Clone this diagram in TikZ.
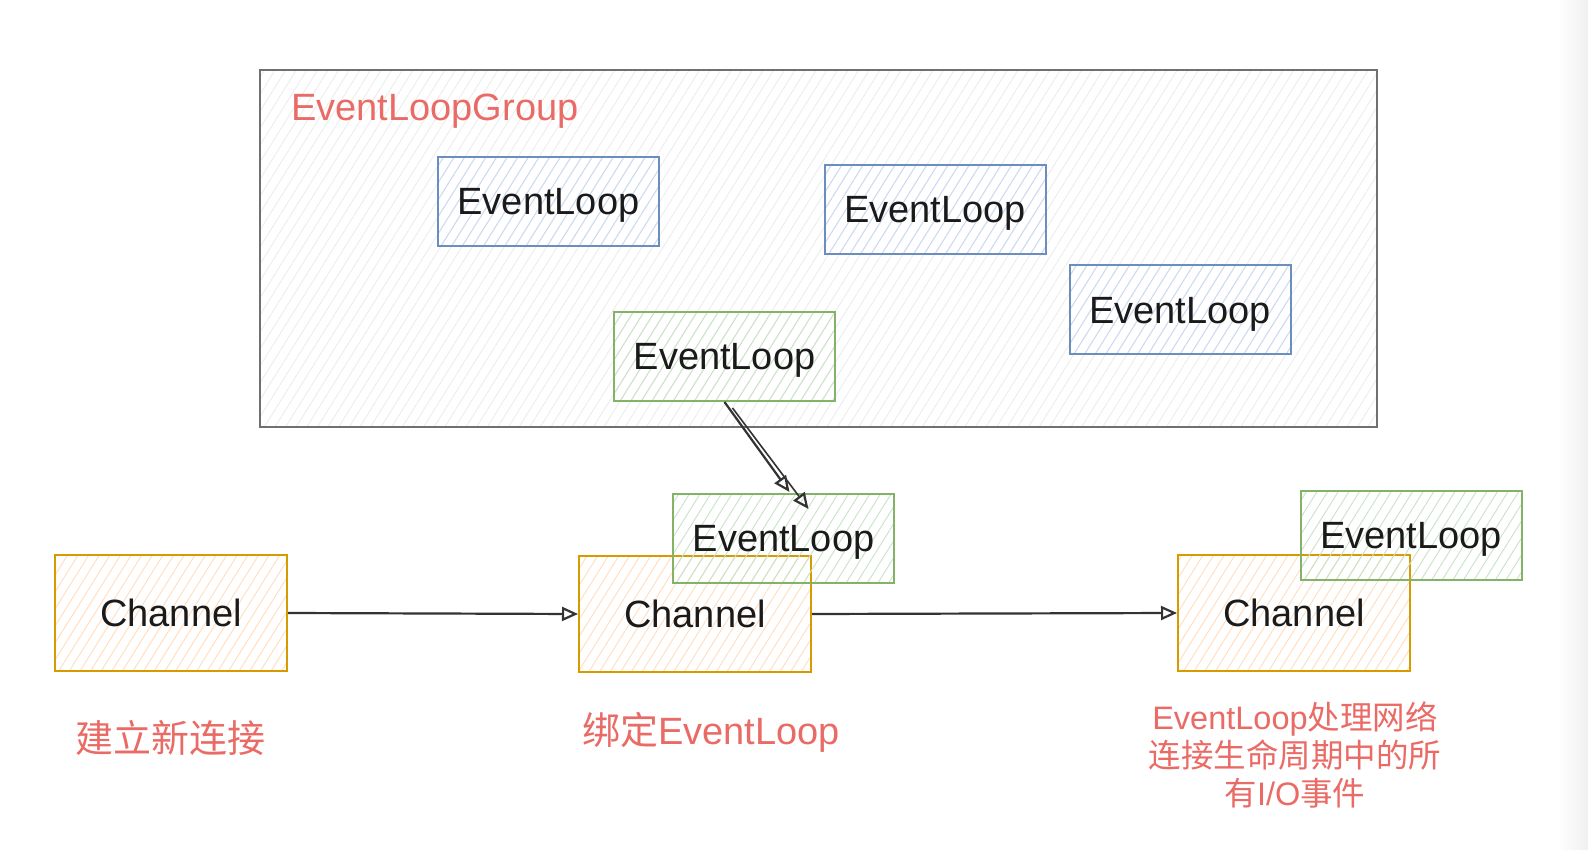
\documentclass[tikz,border=0pt]{standalone}
\usepackage{fontspec}
\setmainfont{Liberation Sans}
\newfontfamily\cjk{Noto Sans CJK SC}
\usetikzlibrary{arrows.meta,patterns.meta,calc}
\definecolor{blueB}{HTML}{6C8EBF}
\definecolor{blueF}{HTML}{C9DAF5}
\definecolor{greenB}{HTML}{82B366}
\definecolor{greenF}{HTML}{C8E3C6}
\definecolor{orangeB}{HTML}{D79B00}
\definecolor{orangeF}{HTML}{FFDDBE}
\definecolor{grpB}{HTML}{707070}
\definecolor{grpF}{HTML}{E6E6E6}
\definecolor{redT}{HTML}{EA6B66}
\definecolor{txt}{HTML}{1A1A1A}
\tikzset{
  hatch/.style={pattern={Lines[angle=58,distance=9pt,line width=0.9pt]}, pattern color=#1},
  elbox/.style={draw=#1, line width=2pt, minimum width=221pt, minimum height=89pt,
    inner sep=0pt, text depth=0pt, text=txt, font=\fontsize{38}{44}\selectfont},
  elblue/.style={elbox=blueB, hatch=blueF},
  elgreen/.style={elbox=greenB, hatch=greenF},
  chbox/.style={draw=orangeB, line width=2pt, minimum width=232pt, minimum height=116pt,
    inner sep=0pt, text=txt, font=\fontsize{38}{44}\selectfont, hatch=orangeF},
  grpbox/.style={draw=grpB, line width=2pt, minimum width=1117pt, minimum height=357pt,
    inner sep=0pt, hatch=grpF!70},
  lbl/.style={text=redT, font=\fontsize{38}{44}\selectfont, inner sep=0pt},
  conn/.style={line width=2.2pt, draw=black!80,
    -{Triangle[open,length=16pt,width=14pt,line width=2.2pt]}}
}
\begin{document}
\begin{tikzpicture}[x=1pt,y=-1pt]
\useasboundingbox (0,0) rectangle (1588,850);
\fill[white] (0,0) rectangle (1588,850);
\fill[left color=white, right color=black!6] (1558,0) rectangle (1588,850);

\node[grpbox] (grp) at (818.5,248.5) {};
\node[lbl, anchor=west] (grplbl) at (291,111) {EventLoopGroup};

\node[elblue] (el1) at (548.5,201.5) {EventLoop};
\node[elblue] (el2) at (935,209.5) {EventLoop};
\node[elblue] (el3) at (1180,310) {EventLoop};
\node[elgreen] (el4) at (724.5,356.5) {EventLoop};

\node[chbox] (ch1) at (171,613) {Channel};
\node[chbox] (ch2) at (695,614) {Channel};
\node[chbox] (ch3) at (1294,613) {Channel};

\node[elgreen] (el5) at (783.5,538.5) {EventLoop};
\node[elgreen] (el6) at (1411,535) {EventLoop};

\draw[conn] (ch1.east) -- (ch2.west);
\draw[conn] (ch2.east) -- (ch3.west);
\draw[conn] (el4.south) -- ($(el5.north)+(6,-1)$);
\draw[conn, line width=1.6pt] ($(el4.south)+(8,6)$) -- ($(el5.north)+(25,16)$);

\node[lbl] (l1) at (170,738) {\cjk 建立新连接};
\node[lbl] (l2) at (711,732) {{\cjk 绑定}EventLoop};
\node[lbl, font=\fontsize{32.5}{38}\selectfont, align=center] (l3) at (1295,755)
  {EventLoop{\cjk 处理网络}\\{\cjk 连接生命周期中的所}\\{\cjk 有}I/O{\cjk 事件}};
\end{tikzpicture}
\end{document}
